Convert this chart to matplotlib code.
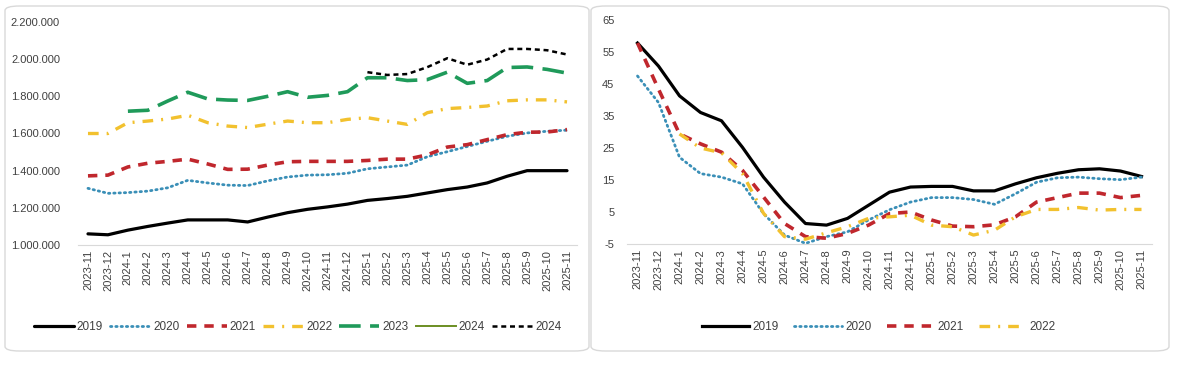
import matplotlib
matplotlib.use("Agg")
import matplotlib.pyplot as plt
import numpy as np
from matplotlib.patches import FancyBboxPatch

plt.rcParams["font.family"] = ["Liberation Sans", "DejaVu Sans"]
plt.rcParams["axes.unicode_minus"] = False

months = ["2023-11", "2023-12"] + [f"2024-{m}" for m in range(1, 13)] + [f"2025-{m}" for m in range(1, 12)]

# left panel: levels
lvl_2019 = [1060000, 1055000, 1080000, 1100000, 1118000, 1135000, 1135000, 1135000, 1124000,
            1150000, 1174000, 1192000, 1205000, 1220000, 1240000, 1250000, 1262000, 1280000,
            1298000, 1312000, 1334000, 1370000, 1400000, 1400000, 1400000]
lvl_2020 = [1305000, 1278000, 1282000, 1290000, 1308000, 1348000, 1334000, 1322000, 1320000,
            1345000, 1366000, 1376000, 1378000, 1386000, 1410000, 1420000, 1430000, 1475000,
            1502000, 1530000, 1558000, 1585000, 1603000, 1612000, 1618000]
lvl_2021 = [1372000, 1376000, 1420000, 1440000, 1450000, 1462000, 1436000, 1407000, 1408000,
            1430000, 1448000, 1450000, 1450000, 1450000, 1455000, 1462000, 1462000, 1485000,
            1527000, 1540000, 1567000, 1594000, 1607000, 1608000, 1621000]
lvl_2022 = [1600000, 1600000, 1658000, 1667000, 1678000, 1698000, 1658000, 1640000, 1632000,
            1650000, 1667000, 1658000, 1658000, 1676000, 1685000, 1667000, 1649000, 1712000,
            1734000, 1740000, 1748000, 1776000, 1781000, 1781000, 1770000]
lvl_2023 = [np.nan, np.nan, 1720000, 1725000, 1775000, 1822000, 1786000, 1780000, 1778000,
            1800000, 1825000, 1795000, 1805000, 1825000, 1900000, 1900000, 1885000, 1890000,
            1930000, 1870000, 1885000, 1955000, 1958000, 1945000, 1925000]
lvl_2024_solid = [np.nan] * 25
lvl_2024 = [np.nan] * 14 + [1930000, 1915000, 1920000, 1957000, 2005000, 1970000, 1998000,
                            2055000, 2055000, 2048000, 2025000]

# right panel: percentages
pct_2019 = [57.8, 50.6, 41.3, 36.1, 33.5, 25.2, 15.9, 8.1, 1.4, 0.9, 3.0, 7.1, 11.2, 12.8,
            13.0, 13.0, 11.6, 11.6, 13.8, 15.7, 17.1, 18.2, 18.5, 17.8, 16.1]
pct_2020 = [47.5, 39.2, 22.1, 17.0, 15.9, 13.8, 4.5, -2.2, -4.8, -2.7, -1.2, 2.5, 5.7, 8.1,
            9.5, 9.5, 8.9, 7.4, 10.7, 14.3, 15.7, 15.9, 15.4, 15.1, 15.9]
pct_2021 = [57.8, 43.4, 29.4, 26.3, 23.7, 18.0, 9.7, 1.4, -2.7, -3.2, -1.7, 0.9, 4.5, 5.0,
            2.5, 0.6, 0.4, 1.0, 3.5, 8.1, 9.5, 10.9, 10.9, 9.5, 10.2]
pct_2022 = [np.nan, np.nan, 29.4, 25.0, 23.5, 17.0, 4.6, -2.7, -3.5, -1.5, 0.4, 3.0, 3.5, 4.0,
            0.9, 0.4, -2.2, -0.7, 3.5, 5.8, 5.8, 6.4, 5.6, 5.8, 5.8]

W, H = 1200, 379
fig = plt.figure(figsize=(12, 3.79), dpi=100)
fig.patch.set_facecolor("white")

# rounded panel frames
for x0, x1 in [(5, 589), (591, 1169)]:
    box = FancyBboxPatch((x0 / W, 1 - 351 / H), (x1 - x0) / W, (351 - 6) / H,
                         boxstyle="round,pad=0,rounding_size=0.012",
                         transform=fig.transFigure, facecolor="white",
                         edgecolor="#d9d9d9", lw=1.0, zorder=-10)
    fig.patches.append(box)


def px_axes(left, right, top, bottom):
    return fig.add_axes([left / W, 1 - bottom / H, (right - left) / W, (bottom - top) / H])


x = np.arange(len(months))
tick_col = "#404040"


def style(ax):
    ax.set_xlim(-0.5, len(months) - 0.5)
    for s in ["top", "right", "left"]:
        ax.spines[s].set_visible(False)
    ax.spines["bottom"].set_color("#d9d9d9")
    ax.tick_params(length=0, labelsize=8, colors=tick_col)
    ax.set_xticks(x)
    ax.set_xticklabels(months, rotation=90, fontsize=8, color=tick_col)
    ax.patch.set_alpha(0)


blk = "#000000"
blue = "#3a8fb7"
red = "#c0272d"
yel = "#f2c12e"
grn = "#1f9a5a"
olv = "#6b8e23"

# ---- left panel ----
ax = px_axes(78, 577, 22, 245)
style(ax)
ax.tick_params(axis="y", pad=13)
ax.plot(x, lvl_2019, color=blk, lw=2.3, label="2019", solid_capstyle="round")
ax.plot(x, lvl_2020, color=blue, lw=2.0, ls=(0, (0.5, 1.4)), dash_capstyle="round", label="2020")
ax.plot(x, lvl_2021, color=red, lw=2.6, ls=(0, (2.6, 2.2)), label="2021")
ax.plot(x, lvl_2022, color=yel, lw=2.4, ls=(0, (3.2, 2.4, 0.6, 2.4)), label="2022")
ax.plot(x, lvl_2023, color=grn, lw=2.6, ls=(0, (6.0, 2.6)), label="2023")
ax.plot(x, lvl_2024_solid, color=olv, lw=1.4, label="2024")
ax.plot(x, lvl_2024, color=blk, lw=1.8, ls=(0, (2.0, 1.5)), label="2024")
ax.set_ylim(1000000, 2200000)
ax.set_yticks(np.arange(1000000, 2200001, 200000))
ax.set_yticklabels([f"{v:,.0f}".replace(",", ".") for v in np.arange(1000000, 2200001, 200000)])
ax.legend(loc="center", bbox_to_anchor=(0.44, 1 - (327 - 22) / 223), ncol=7, frameon=False,
          fontsize=8.5, handlelength=3.4, columnspacing=0.6, handletextpad=0.25,
          labelcolor=tick_col)

# ---- right panel ----
ax = px_axes(627, 1152, 20, 244)
style(ax)
ax.tick_params(axis="y", pad=9)
ax.plot(x, pct_2019, color=blk, lw=2.3, label="2019")
ax.plot(x, pct_2020, color=blue, lw=2.0, ls=(0, (0.5, 1.4)), dash_capstyle="round", label="2020")
ax.plot(x, pct_2021, color=red, lw=2.6, ls=(0, (2.6, 2.2)), label="2021")
ax.plot(x, pct_2022, color=yel, lw=2.4, ls=(0, (3.2, 2.4, 0.6, 2.4)), label="2022")
ax.set_ylim(-5, 65)
ax.set_yticks(np.arange(-5, 66, 10))
ax.legend(loc="center", bbox_to_anchor=(0.48, 1 - (327 - 20) / 224), ncol=4, frameon=False,
          fontsize=8.5, handlelength=4.0, columnspacing=1.3, handletextpad=0.3,
          labelcolor=tick_col)

fig.savefig("out.png", dpi=100, facecolor="white")
